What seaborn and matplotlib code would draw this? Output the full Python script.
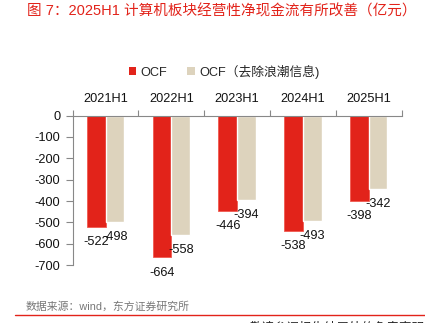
import matplotlib
matplotlib.use("Agg")
import matplotlib.pyplot as plt
import seaborn as sns
import pandas as pd
from matplotlib.lines import Line2D
from matplotlib.patches import Patch

categories = ["2021H1", "2022H1", "2023H1", "2024H1", "2025H1"]
ocf = [-522, -664, -446, -538, -398]
ocf_adj = [-498, -558, -394, -493, -342]
series_names = ["OCF", "OCF（去除浪潮信息)"]
yticks = [0, -100, -200, -300, -400, -500, -600, -700]

sns.set_theme(style="white")
plt.rcParams['font.family'] = ['Liberation Sans', 'Noto Sans CJK SC']
plt.rcParams['axes.unicode_minus'] = False

RED = "#E2231A"
BEIGE = "#DDD3BD"

df = pd.DataFrame({
    "cat": categories * 2,
    "val": ocf + ocf_adj,
    "series": [series_names[0]] * len(categories) + [series_names[1]] * len(categories),
})

fig = plt.figure(figsize=(4.25, 3.23), dpi=100)
ax = fig.add_axes([0.171, 0.179, 0.774, 0.463])

sns.barplot(data=df, x="cat", y="val", hue="series", order=categories,
            hue_order=series_names, palette=[RED, BEIGE], width=0.57,
            gap=0, ax=ax, legend=False, saturation=1)

for p in ax.patches[:len(categories)]:
    p.set_edgecolor("#F05A50")
    p.set_linewidth(0.6)

ax.set_ylim(-700, 0)
ax.set_xlim(-0.5, len(categories) - 0.5)
ax.set_yticks(yticks)
ax.set_yticklabels([str(v) for v in yticks])
ax.set_xlabel("")
ax.set_ylabel("")

ax.xaxis.tick_top()
ax.tick_params(axis="x", which="major", length=0, pad=8, labelsize=9.2, colors="#111111")
ax.set_xticks([i - 0.5 for i in range(len(categories) + 1)], minor=True)
ax.tick_params(axis="x", which="minor", length=4, width=0.8, color="#888888", direction="out", top=True, bottom=False)
ax.tick_params(axis="y", length=5, width=0.8, color="#888888", pad=4, labelsize=9.2, colors="#111111", left=True)

for s in ["right", "bottom"]:
    ax.spines[s].set_visible(False)
for s in ["left", "top"]:
    ax.spines[s].set_color("#888888")
    ax.spines[s].set_linewidth(0.8)

# labels
reds = ax.patches[:len(categories)]
beiges = ax.patches[len(categories):2 * len(categories)]
for bars, vals in [(reds, ocf), (beiges, ocf_adj)]:
    for p, v in zip(bars, vals):
        ax.annotate(str(v), (p.get_x() + p.get_width() / 2, v), xytext=(0, -11),
                    textcoords="offset points", ha="center", va="center",
                    fontsize=9.2, color="#111111", annotation_clip=False)

# legend
handles = [Patch(facecolor=RED, edgecolor="none"), Patch(facecolor=BEIGE, edgecolor="none")]
fig.legend(handles, series_names, loc="center", bbox_to_anchor=(0.527, 0.778), ncol=2,
           frameon=False, fontsize=9.2, handlelength=0.6, handleheight=0.6,
           handletextpad=0.3, columnspacing=1.6)

fig.text(27 / 425, 1 - 11 / 323, "图 7：2025H1 计算机板块经营性净现金流有所改善（亿元）",
         color="#E2231A", fontsize=10.5, ha="left", va="center", fontweight="medium")
fig.text(26 / 425, 1 - 307 / 323, "数据来源：wind，东方证券研究所",
         color="#777777", fontsize=7.8, ha="left", va="center")
fig.add_artist(Line2D([15 / 425, 1.0], [1 - 315 / 323] * 2, color="#E2231A", lw=1.0))
fig.text(250 / 425, 1 - 328 / 323, "敬请参阅报告结尾处的免责声明",
         color="#222222", fontsize=9, ha="left", va="center")

fig.savefig("out.png", dpi=100)
